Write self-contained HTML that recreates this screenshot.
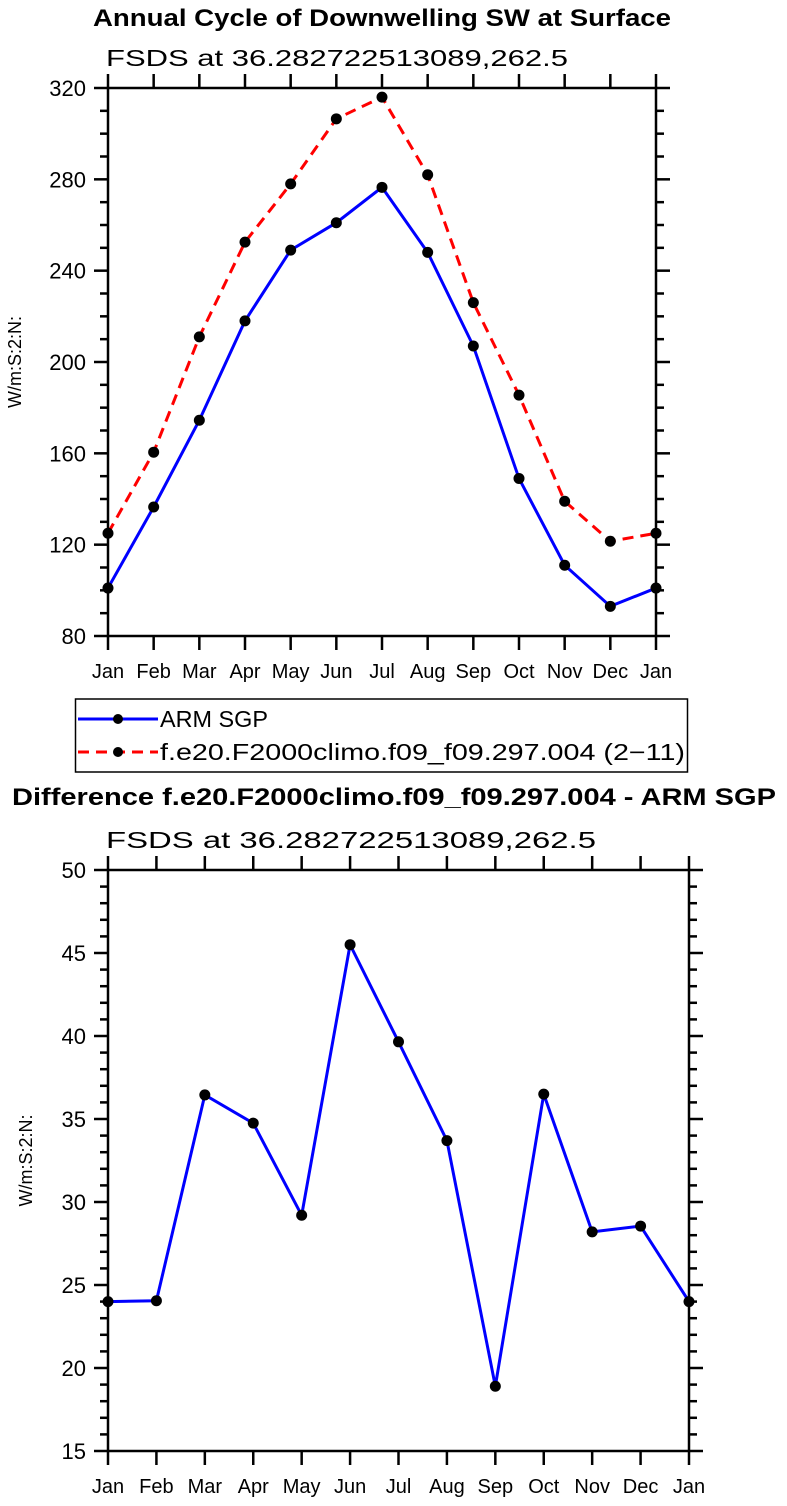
<!DOCTYPE html>
<html><head><meta charset="utf-8"><style>
html,body{margin:0;padding:0;background:#fff;}
svg{display:block;font-family:"Liberation Sans",sans-serif;}
</style></head><body>
<svg id="chart" width="787" height="1506" viewBox="0 0 787 1506">
<text x="382" y="26" text-anchor="middle" font-weight="bold" font-size="24" textLength="578" lengthAdjust="spacingAndGlyphs">Annual Cycle of Downwelling SW at Surface</text>
<text x="106" y="66" font-size="23" textLength="462" lengthAdjust="spacingAndGlyphs">FSDS at 36.282722513089,262.5</text>
<text x="394" y="805" text-anchor="middle" font-weight="bold" font-size="24" textLength="764" lengthAdjust="spacingAndGlyphs">Difference f.e20.F2000climo.f09_f09.297.004 - ARM SGP</text>
<text x="106" y="848" font-size="23" textLength="490" lengthAdjust="spacingAndGlyphs">FSDS at 36.282722513089,262.5</text>
<g>
<rect x="75.5" y="699" width="612" height="73" fill="none" stroke="#000" stroke-width="1.5"/>
<g>
<line x1="78" y1="719" x2="158" y2="719" stroke="#00f" stroke-width="3"/>
<circle cx="118" cy="719" r="5"/>
<text x="160" y="727" font-size="23" textLength="108" lengthAdjust="spacingAndGlyphs">ARM SGP</text>
</g>
<g>
<line x1="78" y1="752" x2="158" y2="752" stroke="#f00" stroke-width="3" stroke-dasharray="11,7"/>
<circle cx="118" cy="752" r="5"/>
<text x="160" y="760" font-size="23" textLength="525" lengthAdjust="spacingAndGlyphs">f.e20.F2000climo.f09_f09.297.004 (2−11)</text>
</g>
</g>
</svg>
<script>
const months = ["Jan","Feb","Mar","Apr","May","Jun","Jul","Aug","Sep","Oct","Nov","Dec","Jan"];
const armSgp = [101,136.5,174.5,218,249,261,276.5,248,207,149,111,93,101];
const model = [125,160.5,211,252.5,278,306.5,316,282,226,185.5,139,121.5,125];
const diff = [24.0,24.05,36.45,34.75,29.2,45.5,39.65,33.7,18.9,36.5,28.2,28.55,24.0];
const topTicks = [80,120,160,200,240,280,320];
const bottomTicks = [15,20,25,30,35,40,45,50];

const NS="http://www.w3.org/2000/svg";
const svg=document.getElementById('chart');
function mk(tag,attrs,parent){const e=document.createElementNS(NS,tag);for(const k in attrs)e.setAttribute(k,attrs[k]);(parent||svg).appendChild(e);return e;}
function isMajor(v,p){return p.ticks.some(t=>Math.abs(t-v)<1e-6);}

function drawPanel(p){
  const g=mk('g',{});
  
  
  const xs=i=>p.x0+(p.x1-p.x0)*i/(months.length-1);
  const ys=v=>p.y1-(v-p.ymin)/(p.ymax-p.ymin)*(p.y1-p.y0);
  for(let v=p.ymin;v<=p.ymax+1e-9;v+=p.minor){
    const y=ys(v);
    const L=isMajor(v,p)?14:8;
    mk('line',{x1:p.x0-L,y1:y,x2:p.x0,y2:y,stroke:'#000','stroke-width':2.5},g);
    mk('line',{x1:p.x1,y1:y,x2:p.x1+L,y2:y,stroke:'#000','stroke-width':2.5},g);
  }
  const yl=mk('g',{},g);
  
  
  p.ticks.forEach(v=>{
    const t=mk('text',{x:p.x0-22,y:ys(v)+8,'text-anchor':'end','font-size':22},yl);
    t.textContent=v;
  });
  const xl=mk('g',{},g);
  
  
  months.forEach((m,i)=>{
    const x=xs(i);
    mk('line',{x1:x,y1:p.y0-14,x2:x,y2:p.y0,stroke:'#000','stroke-width':2.5},g);
    mk('line',{x1:x,y1:p.y1,x2:x,y2:p.y1+14,stroke:'#000','stroke-width':2.5},g);
    const t=mk('text',{x:x,y:p.y1+42,'text-anchor':'middle','font-size':20},xl);
    t.textContent=m;
  });
  const fr=mk('rect',{x:p.x0,y:p.y0,width:p.x1-p.x0,height:p.y1-p.y0,fill:'none',stroke:'#000','stroke-width':2.5},g);
  
  
  const yt=mk('text',{x:0,y:0,'text-anchor':'middle','font-size':18,transform:`translate(${p.ytx},${(p.y0+p.y1)/2}) rotate(-90)`},g);
  
  
  yt.textContent='W/m:S:2:N:';
  p.series.forEach(s=>{
    const sg=mk('g',{},g);
    
    
    const pts=s.data.map((v,i)=>xs(i)+','+ys(v)).join(' ');
    const pl=mk('polyline',{points:pts,fill:'none',stroke:s.color,'stroke-width':3,'stroke-dasharray':s.dash||'none'},sg);
    
    
    s.data.forEach((v,i)=>{
      const c=mk('circle',{cx:xs(i),cy:ys(v),r:5.5,fill:'#000'},sg);
      
      
    });
  });
}

drawPanel({name:'annual-cycle-chart',x0:108,x1:656,y0:88,y1:636,ymin:80,ymax:320,minor:10,ticks:topTicks,ytx:21,
  series:[{name:'arm-sgp-series',data:armSgp,color:'#00f'},{name:'model-series',data:model,color:'#f00',dash:'11,7'}]});
drawPanel({name:'difference-chart',x0:108,x1:689,y0:870,y1:1451,ymin:15,ymax:50,minor:1,ticks:bottomTicks,ytx:32,
  series:[{name:'difference-series',data:diff,color:'#00f'}]});
</script>
</body></html>
